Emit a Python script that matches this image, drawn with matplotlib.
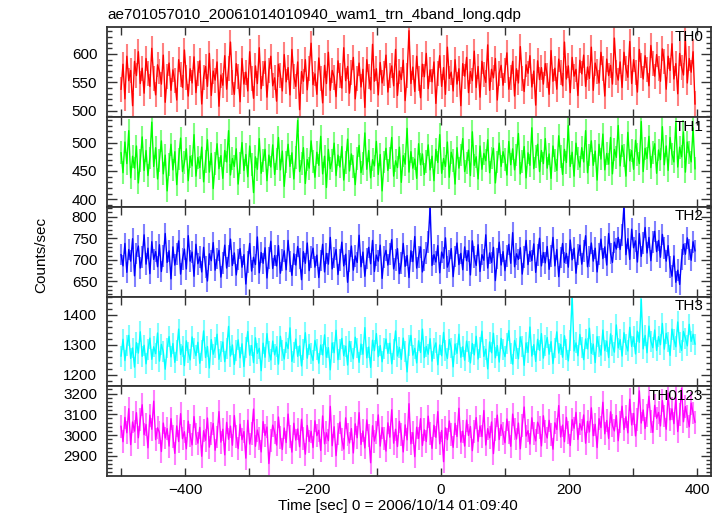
import numpy as np
import matplotlib
matplotlib.use("Agg")
import matplotlib.pyplot as plt
from matplotlib.ticker import MultipleLocator

plt.rcParams['font.family'] = ['Liberation Sans', 'DejaVu Sans']

title = "ae701057010_20061014010940_wam1_trn_4band_long.qdp"
xlabel = "Time [sec] 0 = 2006/10/14 01:09:40"
ylabel = "Counts/sec"

# time bins (seconds relative to 2006/10/14 01:09:40)
t_start = -500.0
t_bin = 3.0

band_names = ["TH0", "TH1", "TH2", "TH3", "TH0123"]

th0 = [
    538, 582, 521, 596, 553, 571, 509, 587, 562, 604, 548, 575, 531, 592, 566, 543, 610, 557, 528, 581,
    569, 547, 598, 515, 561, 584, 536, 572, 553, 519, 590, 564, 541, 607, 558, 526, 574, 549, 595, 532,
    566, 588, 512, 559, 578, 543, 601, 527, 570, 554, 586, 508, 563, 545, 597, 538, 575, 621, 550, 529,
    583, 560, 516, 592, 547, 568, 535, 604, 557, 522, 579, 548, 611, 539, 565, 587, 524, 571, 596, 544,
    558, 517, 582, 563, 535, 599, 551, 576, 528, 608, 561, 543, 586, 502, 569, 552, 590, 537, 574, 619,
    546, 565, 529, 593, 557, 514, 580, 548, 603, 536, 571, 559, 525, 588, 562, 540, 611, 553, 578, 531,
    567, 594, 521, 556, 584, 542, 573, 506, 590, 561, 537, 617, 552, 574, 528, 585, 549, 566, 598, 533,
    562, 579, 544, 608, 527, 570, 555, 589, 518, 563, 641, 548, 577, 534, 596, 556, 523, 582, 560, 601,
    539, 572, 551, 586, 513, 565, 597, 543, 576, 529, 612, 557, 568, 535, 590, 547, 574, 509, 583, 561,
    594, 532, 569, 553, 605, 541, 578, 524, 587, 564, 550, 616, 536, 573, 558, 592, 519, 566, 580, 545,
    571, 602, 538, 559, 587, 526, 574, 549, 613, 557, 534, 581, 566, 597, 542, 570, 510, 588, 555, 576,
    547, 583, 563, 529, 606, 552, 575, 538, 591, 568, 544, 621, 556, 579, 532, 594, 561, 573, 527, 589,
    565, 598, 543, 577, 557, 612, 536, 584, 569, 549, 603, 574, 526, 591, 562, 580, 547, 628, 568, 554,
    586, 541, 603, 575, 559, 622, 548, 590, 567, 533, 608, 579, 556, 597, 572, 544, 615, 583, 561, 599,
    574, 552, 609, 587, 538, 596, 571, 618, 556, 583, 530, 601, 577, 563, 625, 549, 592, 568, 604, 512,
]

th1 = [
    482, 447, 501, 463, 521, 438, 476, 455, 494, 429, 468, 510, 451, 486, 442, 473, 536, 458, 491, 436,
    469, 503, 445, 478, 415, 462, 497, 452, 484, 426, 471, 508, 449, 465, 489, 433, 476, 459, 514, 441,
    474, 456, 492, 431, 467, 505, 448, 481, 419, 463, 498, 454, 477, 437, 486, 466, 521, 443, 472, 458,
    489, 427, 464, 500, 451, 479, 440, 494, 461, 412, 475, 453, 507, 446, 469, 488, 433, 478, 457, 496,
    444, 471, 509, 452, 485, 423, 466, 497, 458, 482, 436, 474, 539, 449, 463, 491, 428, 470, 455, 503,
    467, 439, 483, 460, 511, 445, 476, 421, 488, 454, 469, 499, 442, 478, 457, 493, 434, 465, 506, 450,
    480, 458, 426, 472, 495, 447, 463, 517, 453, 486, 438, 470, 459, 502, 444, 479, 415, 466, 490, 451,
    473, 509, 441, 468, 456, 492, 430, 477, 462, 525, 448, 484, 455, 471, 437, 498, 461, 480, 444, 467,
    496, 452, 476, 433, 488, 465, 514, 446, 472, 458, 501, 439, 483, 469, 427, 491, 455, 478, 507, 449,
    464, 487, 442, 519, 460, 475, 436, 494, 453, 481, 468, 505, 447, 473, 490, 429, 466, 499, 458, 484,
    470, 443, 502, 461, 489, 452, 478, 516, 445, 467, 493, 438, 482, 460, 526, 454, 475, 497, 449, 486,
    463, 507, 455, 480, 437, 494, 469, 451, 512, 476, 444, 488, 465, 530, 458, 483, 441, 499, 472, 457,
    491, 466, 521, 447, 478, 503, 460, 485, 434, 497, 471, 515, 452, 481, 462, 509, 445, 488, 474, 530,
    459, 495, 477, 441, 518, 468, 486, 453, 504, 479, 463, 537, 449, 490, 472, 511, 456, 483, 498, 446,
    487, 470, 528, 461, 494, 451, 509, 480, 466, 535, 457, 492, 475, 519, 448, 501, 482, 466, 526, 454,
]

th2 = [
    712, 686, 738, 671, 724, 697, 749, 663, 715, 732, 681, 706, 758, 690, 727, 668, 742, 701, 719, 684,
    735, 673, 709, 761, 694, 721, 656, 730, 688, 713, 744, 667, 702, 725, 679, 756, 697, 718, 662, 736,
    691, 707, 672, 729, 684, 651, 714, 698, 740, 676, 703, 722, 660, 693, 734, 681, 709, 748, 687, 716,
    665, 701, 726, 683, 712, 644, 695, 738, 674, 706, 689, 753, 670, 717, 692, 728, 658, 704, 743, 680,
    710, 686, 733, 669, 699, 721, 677, 745, 696, 664, 714, 688, 731, 703, 654, 719, 692, 739, 675, 707,
    727, 683, 711, 659, 698, 736, 672, 715, 690, 752, 679, 705, 724, 666, 700, 741, 686, 713, 648, 697,
    732, 676, 709, 694, 757, 684, 718, 662, 703, 729, 691, 745, 673, 711, 697, 734, 657, 706, 722, 688,
    714, 747, 679, 700, 726, 668, 693, 738, 685, 710, 659, 721, 696, 754, 681, 707, 730, 672, 699, 716,
    742, 823, 687, 712, 695, 733, 670, 718, 704, 751, 683, 697, 726, 661, 708, 739, 689, 715, 677, 730,
    698, 721, 665, 744, 706, 687, 735, 673, 712, 699, 758, 681, 716, 694, 729, 652, 703, 741, 688, 719,
    675, 709, 736, 692, 763, 684, 714, 701, 728, 667, 706, 745, 689, 720, 698, 737, 671, 711, 750, 686,
    717, 693, 731, 678, 709, 752, 686, 724, 661, 705, 738, 694, 715, 683, 746, 700, 727, 669, 712, 734,
    690, 721, 756, 684, 708, 739, 697, 727, 672, 713, 748, 703, 730, 688, 761, 715, 694, 741, 725, 752,
    724, 758, 826, 712, 749, 701, 771, 728, 744, 695, 761, 708, 739, 775, 716, 752, 698, 741, 766, 719,
    745, 706, 759, 728, 697, 733, 684, 662, 709, 648, 676, 643, 701, 736, 713, 751, 724, 699, 742, 721,
]

th3 = [
    1262, 1318, 1247, 1296, 1331, 1254, 1289, 1225, 1307, 1272, 1343, 1261, 1298, 1236, 1284, 1322, 1251, 1293, 1270, 1339,
    1245, 1301, 1276, 1218, 1289, 1327, 1259, 1304, 1241, 1282, 1352, 1267, 1295, 1230, 1313, 1274, 1249, 1326, 1287, 1263,
    1308, 1238, 1281, 1346, 1257, 1294, 1222, 1317, 1268, 1290, 1335, 1251, 1277, 1309, 1243, 1286, 1361, 1262, 1299, 1234,
    1280, 1316, 1256, 1303, 1227, 1291, 1344, 1265, 1297, 1240, 1323, 1271, 1288, 1213, 1305, 1258, 1337, 1276, 1249, 1312,
    1266, 1293, 1235, 1328, 1279, 1252, 1308, 1287, 1356, 1244, 1274, 1319, 1261, 1296, 1229, 1283, 1340, 1255, 1301, 1270,
    1247, 1314, 1285, 1238, 1299, 1266, 1333, 1258, 1290, 1216, 1306, 1273, 1348, 1250, 1284, 1321, 1263, 1295, 1232, 1311,
    1278, 1253, 1325, 1289, 1241, 1302, 1268, 1357, 1256, 1292, 1224, 1315, 1280, 1337, 1260, 1297, 1243, 1286, 1319, 1271,
    1305, 1236, 1283, 1346, 1262, 1291, 1251, 1322, 1276, 1209, 1298, 1331, 1265, 1288, 1239, 1313, 1274, 1352, 1257, 1294,
    1268, 1320, 1245, 1287, 1306, 1233, 1299, 1263, 1341, 1279, 1254, 1317, 1289, 1226, 1302, 1271, 1335, 1258, 1293, 1248,
    1312, 1277, 1239, 1304, 1266, 1328, 1252, 1291, 1345, 1261, 1285, 1219, 1309, 1273, 1338, 1256, 1297, 1242, 1321, 1283,
    1260, 1303, 1347, 1270, 1235, 1314, 1288, 1253, 1326, 1295, 1231, 1306, 1274, 1359, 1262, 1300, 1244, 1318, 1281, 1337,
    1255, 1296, 1324, 1268, 1310, 1237, 1289, 1343, 1272, 1301, 1258, 1330, 1284, 1246, 1315, 1462, 1279, 1306, 1263, 1334,
    1291, 1250, 1319, 1286, 1355, 1271, 1302, 1240, 1327, 1293, 1265, 1349, 1280, 1312, 1257, 1336, 1298, 1275, 1366, 1289,
    1317, 1262, 1340, 1301, 1279, 1358, 1294, 1326, 1269, 1345, 1308, 1451, 1286, 1331, 1273, 1362, 1312, 1290, 1349, 1281,
    1327, 1300, 1371, 1285, 1338, 1309, 1264, 1352, 1318, 1293, 1376, 1306, 1281, 1344, 1322, 1296, 1368, 1311, 1335, 1302,
]

th0123 = [
    3042, 2968, 3085, 3011, 3127, 2954, 3063, 3019, 3108, 2987, 3074, 3146, 3002, 3051, 2939, 3096, 3028, 3163, 2978, 3035,
    3012, 2921, 3058, 2986, 3031, 2947, 3079, 2995, 2912, 3044, 2969, 3103, 2983, 3016, 2934, 3067, 2998, 2953, 3089, 3005,
    2961, 3037, 2898, 3021, 2975, 3082, 2942, 3009, 3056, 2927, 2991, 3113, 2966, 3028, 2905, 3061, 2980, 3043, 2951, 3094,
    2993, 2935, 3052, 2978, 3017, 2889, 3071, 2957, 3006, 3125, 2946, 3024, 2982, 2919, 3065, 2998, 3039, 2863, 2972, 3048,
    3013, 2952, 3087, 2989, 2931, 3034, 2964, 3101, 2995, 2918, 3057, 2976, 3029, 2944, 3076, 2985, 2908, 3046, 2969, 3018,
    2940, 3069, 2997, 3023, 2926, 3092, 2958, 3011, 2973, 3138, 2949, 3040, 2901, 3005, 3062, 2979, 2933, 3083, 3001, 2962,
    3031, 2914, 3054, 2987, 3108, 2955, 3020, 2938, 3073, 2996, 2867, 3045, 2971, 3014, 3097, 2947, 3036, 2982, 2923, 3059,
    2990, 3122, 2961, 3028, 2945, 3066, 3003, 2919, 3049, 2977, 3151, 2958, 3012, 2896, 3038, 2984, 3079, 2950, 3025, 2969,
    3091, 3007, 2936, 3047, 2989, 3113, 2958, 3022, 2872, 3035, 2978, 3068, 3001, 2941, 3056, 2993, 3129, 2966, 3019, 2947,
    3072, 2998, 3041, 2925, 3017, 3084, 2970, 3044, 2993, 3118, 2952, 3031, 2987, 3063, 2911, 3026, 3096, 2979, 3050, 3008,
    2963, 3077, 3014, 2946, 3101, 3029, 2981, 3058, 2934, 3046, 3135, 2995, 3021, 2957, 3083, 3009, 2972, 3062, 3037, 2948,
    3093, 3016, 2986, 3071, 3004, 2932, 3059, 3027, 3142, 2991, 3048, 2968, 3085, 3012, 2950, 3074, 3033, 3109, 2979, 3055,
    3024, 3097, 2961, 3066, 3015, 3131, 2997, 3052, 2940, 3079, 3036, 3158, 3006, 3070, 2984, 3112, 3046, 3020, 3094, 2973,
    3063, 3139, 3027, 3088, 3011, 3172, 3049, 3104, 2996, 3076, 3213, 3058, 3121, 3032, 3095, 3187, 3067, 3013, 3143, 3081,
    3109, 3044, 3166, 3092, 3028, 3201, 3073, 3126, 3055, 3180, 3017, 3098, 3225, 3064, 3137, 3089, 3040, 3154, 3106, 3062,
]

# typical 1-sigma error per band (counts/sec)
band_errors = [22, 20, 25, 35, 55]

series = [th0, th1, th2, th3, th0123]
colors = ["#ff0000", "#00ff00", "#0000ff", "#00ffff", "#ff00ff"]
err_colors = ["#ff8080", "#80ff80", "#8080ff", "#80ffff", "#ff80ff"]
ylims = [(489, 647), (387, 545), (615, 823), (1161, 1461), (2803, 3235)]
ymajor = [50, 50, 50, 100, 100]
yminor = [10, 10, 10, 20, 20]
xlim = (-522, 422)

W, H = 722, 516
fig = plt.figure(figsize=(W / 100, H / 100), dpi=100)

left_px, right_px = 107, 711
top_px, bot_px = 27.3, 476.0
ph = (bot_px - top_px) / 5
frame_col = "#333333"
fs = 11

axes = []
for k in range(5):
    y_top = top_px + k * ph
    ax = fig.add_axes([left_px / W, 1 - (y_top + ph) / H,
                       (right_px - left_px) / W, ph / H])
    axes.append(ax)
    y = np.asarray(series[k], dtype=float)
    t = t_start + t_bin * np.arange(len(y))
    ax.errorbar(t, y, yerr=band_errors[k], fmt='none', ecolor=err_colors[k],
                elinewidth=1.5, capsize=0, zorder=1)
    ax.plot(t, y, color=colors[k], lw=1.0, zorder=2)
    ax.set_xlim(*xlim)
    ax.set_ylim(*ylims[k])
    ax.xaxis.set_major_locator(MultipleLocator(200))
    ax.xaxis.set_minor_locator(MultipleLocator(100))
    ax.yaxis.set_major_locator(MultipleLocator(ymajor[k]))
    ax.yaxis.set_minor_locator(MultipleLocator(yminor[k]))
    ax.tick_params(which='both', direction='in', top=True, right=True,
                   color=frame_col, width=1.0, labelsize=fs)
    ax.tick_params(axis='x', which='both', length=6, pad=5)
    ax.tick_params(axis='y', which='major', length=7, pad=7)
    ax.tick_params(axis='y', which='minor', length=3.5)
    for s in ax.spines.values():
        s.set_color(frame_col)
        s.set_linewidth(1.3)
    if k < 4:
        ax.tick_params(axis='x', labelbottom=False)
    ax.text(0.987, 0.97, band_names[k], transform=ax.transAxes,
            ha='right', va='top', fontsize=fs, color='black', zorder=5)

axes[0].set_title(title, loc='left', fontsize=fs, pad=6)
fig.text(397.5 / W, 1 - 506 / H, xlabel, ha='center', va='center', fontsize=fs)
fig.text(41 / W, 1 - 255 / H, ylabel, ha='center', va='center', rotation=90, fontsize=fs)

fig.savefig("out.png", dpi=100)
